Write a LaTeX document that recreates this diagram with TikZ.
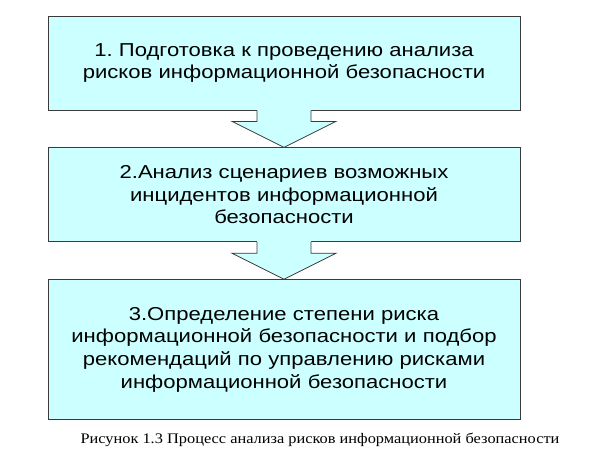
\documentclass[tikz,border=0pt]{standalone}
\usepackage{fontspec}
\setmainfont{Liberation Serif}
\setsansfont{Liberation Sans}
\newfontfamily\stagefont[FakeStretch=1.18]{Liberation Sans}
\newfontfamily\capfont[FakeStretch=1.12]{Liberation Serif}
\usepackage{tikz}
\usetikzlibrary{positioning, calc}
\definecolor{boxfill}{HTML}{CCFFFF}
\definecolor{boxline}{HTML}{3A3A3A}
\tikzset{
  stage/.style={rectangle, draw=boxline, line width=0.8pt, fill=boxfill, minimum width=472pt, text width=460pt, align=center, font=\stagefont\fontsize{18.7}{22.7}\selectfont},
  caption/.style={font=\capfont\fontsize{14.6}{17}\selectfont},
}
\frenchspacing

\begin{document}
\begin{tikzpicture}[x=1pt, y=1pt, node distance=37pt]
  \useasboundingbox (0,0) rectangle (599,-460);

  % Stages
  \node[stage, minimum height=94pt] (prep) at (284,-63) {1. Подготовка к проведению анализа\\рисков информационной безопасности};
  \node[stage, minimum height=94pt, below=of prep] (scen) {2.Анализ сценариев возможных\\инцидентов информационной\\безопасности};
  \node[stage, minimum height=140pt, below=of scen] (risk) {3.Определение степени риска\\информационной безопасности и подбор\\рекомендаций по управлению рисками\\информационной безопасности};

  % Block arrows
  \foreach \from/\to in {prep/scen, scen/risk} {
    \fill[boxfill] ($(\from.south)+(-27,2)$) -- ++(0,-13) -- ++(-25,0) -- (\to.north) -- ($(\from.south)+(52,-11)$) -- ++(-25,0) -- ++(0,13) -- cycle;
    \draw[boxline, line width=0.8pt] ($(\from.south)+(-27,0)$) -- ++(0,-11) -- ++(-25,0) -- (\to.north) -- ($(\from.south)+(52,-11)$) -- ++(-25,0) -- ++(0,11);
  }

  % Caption
  \node[caption, below=10pt of risk, xshift=36pt] (cap) {Рисунок 1.3 Процесс анализа рисков информационной безопасности};

\end{tikzpicture}
\end{document}
